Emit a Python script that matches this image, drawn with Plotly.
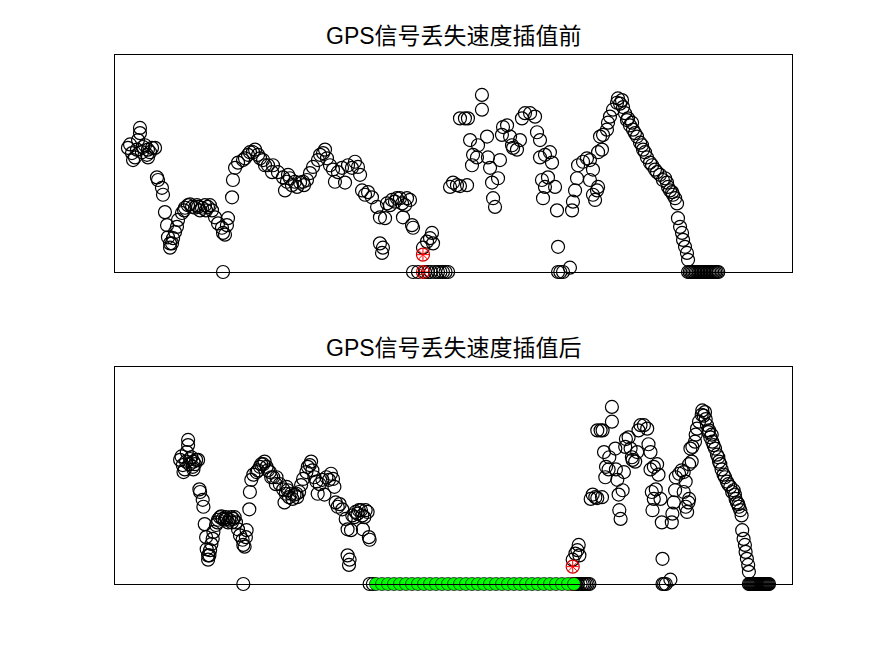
import plotly.graph_objects as go

# ---------------- data (time in s, speed in m/s) ----------------
# segment recorded before the GPS outage
t_seg1 = [8.6, 11.3, 12.0, 13.3, 15.3, 16.6, 16.6, 17.9, 18.6, 21.3, 21.9, 21.9, 24.6, 26.6,
          10.0, 14.6, 19.9, 23.3,
          27.9, 28.6, 31.2, 31.9, 33.2, 34.6, 35.2, 36.6, 36.6, 37.9, 38.6, 39.9, 41.2, 41.9,
          44.5, 46.5, 48.5, 51.2, 53.2, 55.2, 57.8, 59.8, 61.8, 64.5, 66.5, 68.5, 71.1, 71.8,
          73.1, 74.4, 75.1, 45.9, 49.9, 54.5, 56.5, 60.5, 63.1,
          71.8,
          77.8, 78.4, 79.8, 81.8, 85.1, 88.4, 91.7, 95.1, 98.4, 101.7, 104.4,
          86.4, 89.7, 93.1, 96.4, 99.7,
          105.0, 108.3, 111.7, 114.3, 113.0, 116.3, 119.6, 123.0, 125.0, 127.6, 129.6, 131.6,
          117.6, 121.0, 125.6, 115.0,
          134.9, 138.3, 140.9, 142.9, 144.9, 146.2, 148.2, 150.9, 152.9, 154.9, 157.5, 159.5,
          161.5, 162.9, 136.3, 139.6,
          164.2, 166.2, 168.2, 170.8, 174.2, 176.1, 179.5, 180.8, 184.1, 187.4, 190.8, 194.1,
          191.4, 197.4, 198.1, 176.1, 178.1, 177.5,
          182.8, 186.1, 189.4, 192.8, 196.1,
          198.1, 201.4]
v_seg1 = [14.3, 13.7, 12.9, 13.2, 15.2, 16.6, 16.0, 13.8, 14.4, 13.5, 14.1, 13.2, 14.3, 14.3,
          14.7, 14.1, 14.6, 13.8,
          10.9, 10.6, 9.7, 8.9, 6.9, 5.4, 4.0, 3.3, 2.8, 3.3, 3.9, 4.6, 5.2, 6.0,
          6.8, 7.4, 7.7, 7.5, 7.4, 7.5, 7.4, 7.7, 7.5, 7.1, 6.3, 5.6, 5.1, 4.5,
          4.3, 5.4, 6.2, 7.1, 7.8, 7.7, 7.1, 7.1, 7.7,
          0.0,
          8.6, 10.6, 12.0, 12.6, 12.9, 13.5, 13.8, 13.5, 12.9, 12.3, 11.5,
          13.1, 13.8, 14.1, 13.1, 12.3,
          12.3, 11.5, 10.9, 10.4, 9.4, 10.8, 10.4, 10.3, 10.4, 10.6, 11.4, 12.1,
          10.0, 9.8, 10.0, 11.2,
          12.9, 13.7, 13.1, 12.3, 11.8, 10.4, 11.5, 12.0, 10.3, 12.3, 12.0, 12.7,
          12.1, 11.2, 13.5, 14.1,
          9.4, 8.9, 9.2, 8.6, 7.5, 6.3, 6.2, 7.9, 8.3, 8.5, 7.9, 8.5,
          6.3, 5.4, 5.1, 3.3, 2.8, 2.2,
          7.7, 8.1, 8.5, 7.7, 8.3,
          0.0, 0.0]

# segment recorded after the GPS signal came back
t_seg2 = [204.7, 207.4, 209.4, 210.7, 211.4,
          208.0, 212.7, 214.7, 218.0, 221.4, 206.0, 210.0, 216.3, 219.7,
          222.7, 224.7, 227.3, 229.3, 234.0, 229.3, 232.6, 234.6, 236.0, 237.3, 238.0, 240.6,
          241.3, 243.9, 243.9, 247.3, 247.9, 249.3, 250.6, 251.3, 252.6, 254.6, 255.9, 257.2,
          257.9, 260.6, 262.6, 263.9, 264.6, 267.2, 269.2, 270.5, 272.5, 275.9, 279.2, 280.5,
          282.5, 282.5, 285.8, 289.1, 290.5, 283.8, 285.8, 287.8, 292.5, 284.5, 293.8, 294.5,
          294.5, 297.8, 302.4, 296.0,
          303.8, 304.4, 305.8, 307.1, 307.8, 311.1, 313.7, 315.7, 317.7, 319.1, 321.1, 321.1,
          322.4, 315.7, 317.7, 320.4,
          323.7, 324.4, 327.0, 327.7, 329.0, 331.0, 333.7, 334.3, 337.0, 337.7, 339.0, 340.3,
          343.7, 344.3, 347.0, 349.0, 351.0, 353.6, 355.6, 358.9, 362.3, 364.2, 366.9, 368.9,
          370.9, 373.6, 374.2, 375.6, 376.9, 377.6, 378.9, 380.2, 380.9,
          335.7, 341.0, 342.3, 345.6, 350.3, 352.3, 357.0, 360.3, 365.6, 367.6, 370.3, 372.3,
          380.9, 382.0, 383.0, 384.0, 385.0, 386.0, 387.0, 388.0, 389.0, 390.0, 391.0, 392.0,
          393.0, 394.0, 395.0, 396.0, 397.0, 398.0, 399.0, 400.0, 401.0]
v_seg2 = [2.8, 3.5, 3.9, 4.5, 3.3,
          0.0, 0.0, 0.0, 0.0, 0.0, 0.0, 0.0, 0.0, 0.0,
          9.8, 10.3, 10.0, 9.9, 10.0, 17.7, 17.7, 17.7, 15.2, 12.3, 13.5, 13.2,
          14.6, 20.4, 18.7, 15.6, 13.2, 12.0, 10.3, 8.5, 7.5, 10.8, 12.9, 15.8,
          16.7, 16.9, 15.6, 14.6, 14.3, 14.1, 15.2, 17.7, 18.3, 18.3, 17.9, 16.1,
          15.2, 13.2, 13.5, 13.8, 12.6, 10.6, 9.8, 10.9, 9.8, 8.5, 7.1, 2.9,
          0.0, 0.0, 0.5, 0.0,
          7.1, 8.1, 9.4, 10.8, 12.3, 12.7, 13.1, 10.6, 8.9, 8.3, 9.8, 13.8,
          15.6, 12.9, 11.8, 9.4,
          14.1, 15.8, 16.4, 17.2, 17.9, 18.7, 19.5, 20.0, 19.8, 19.0, 18.3, 17.5,
          17.2, 16.4, 15.6, 14.9, 14.1, 13.2, 12.6, 11.8, 11.2, 10.6, 10.3, 9.4,
          8.9, 7.9, 6.2, 5.2, 4.5, 3.7, 2.9, 2.2, 1.4,
          19.4, 17.7, 16.9, 16.0, 14.6, 13.8, 12.3, 11.5, 10.8, 9.8, 9.2, 8.5,
          0.0, 0.0, 0.0, 0.0, 0.0, 0.0, 0.0, 0.0, 0.0, 0.0, 0.0, 0.0,
          0.0, 0.0, 0.0, 0.0, 0.0, 0.0, 0.0, 0.0, 0.0]

# points flagged at the moment of signal loss
t_flag = [204.7, 204.7]
v_flag = [2.0, 0.0]

# time offsets of the two segments on the re-sampled time base
shift_seg1 = 56.5
shift_seg2 = 253.0

# interpolated samples filling the outage
t_interp = [261, 267, 273, 279, 285, 291, 297, 303, 309, 315, 321, 327, 333, 339, 345, 351,
            357, 363, 369, 375, 381, 387, 393, 399, 405, 411, 417, 423, 429, 435, 441, 447,
            453, 459]
v_interp = [0.0] * len(t_interp)

titles = ["GPS信号丢失速度插值前", "GPS信号丢失速度插值后"]

# ---------------- figure ----------------
fig = go.Figure()

black_marker = dict(symbol="circle-open", size=13, color="black", line=dict(width=1.2, color="black"))

def add_panel(xs, ys, xa, ya, flag_x, flag_y, interp=None):
    fig.add_trace(go.Scatter(x=xs, y=ys, mode="markers", marker=black_marker,
                             xaxis=xa, yaxis=ya, cliponaxis=False, showlegend=False))
    fig.add_trace(go.Scatter(x=flag_x, y=flag_y, mode="markers",
                             marker=dict(symbol="circle-open", size=13, color="#d00000",
                                         line=dict(width=1.2, color="#d00000")),
                             xaxis=xa, yaxis=ya, cliponaxis=False, showlegend=False))
    fig.add_trace(go.Scatter(x=flag_x, y=flag_y, mode="markers",
                             marker=dict(symbol="asterisk-open", size=10, color="red",
                                         line=dict(width=1, color="red")),
                             xaxis=xa, yaxis=ya, cliponaxis=False, showlegend=False))
    if interp is not None:
        fig.add_trace(go.Scatter(x=interp[0], y=interp[1], mode="markers",
                                 marker=dict(symbol="circle", size=13, color="#00ff00",
                                             line=dict(width=0.7, color="black")),
                                 xaxis=xa, yaxis=ya, cliponaxis=False, showlegend=False))

add_panel(t_seg1 + t_seg2, v_seg1 + v_seg2, "x", "y", t_flag, v_flag)
add_panel([t + shift_seg1 for t in t_seg1] + [t + shift_seg2 for t in t_seg2],
          v_seg1 + v_seg2, "x2", "y2",
          [t + shift_seg2 for t in t_flag], v_flag,
          interp=(t_interp, v_interp))

W, H = 875, 656
OFF = 8  # page body margin
x_dom = [(115 - OFF) / W, (792 - OFF) / W]
axis_common = dict(showline=True, linecolor="black", linewidth=1, mirror=True,
                   showticklabels=False, ticks="", showgrid=False, zeroline=False)

fig.update_layout(
    width=W, height=H,
    margin=dict(l=0, r=0, t=0, b=0),
    paper_bgcolor="white", plot_bgcolor="white",
    xaxis=dict(domain=x_dom, range=[0, 450], anchor="y", **axis_common),
    yaxis=dict(domain=[(H - 272 + OFF) / H, (H - 55 + OFF) / H], range=[0, 25], anchor="x", **axis_common),
    xaxis2=dict(domain=x_dom, range=[0, 677], anchor="y2", **axis_common),
    yaxis2=dict(domain=[(H - 584 + OFF) / H, (H - 367 + OFF) / H], range=[0, 25], anchor="x2", **axis_common),
    font=dict(family="Liberation Sans, Arial, Noto Sans CJK SC", color="black"),
)

for i, (title, ytop) in enumerate(zip(titles, [36, 348])):
    fig.add_annotation(text=title, xref="paper", yref="paper",
                       x=(x_dom[0] + x_dom[1]) / 2, y=(H - ytop + OFF) / H,
                       xanchor="center", yanchor="middle", showarrow=False,
                       font=dict(size=23, family="Liberation Sans, Arial, Noto Sans CJK SC"))

fig.write_html("out.html")
